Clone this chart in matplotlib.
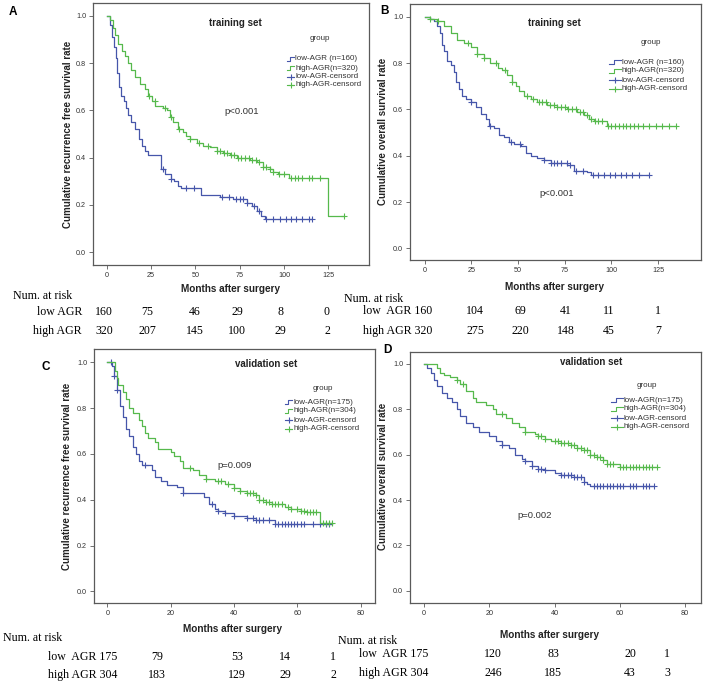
import numpy as np
import matplotlib
matplotlib.use('Agg')
import matplotlib.pyplot as plt

W, H = 708, 682
BLUE = '#4656aa'
GREEN = '#56b94c'
SANS = ['Liberation Sans', 'DejaVu Sans']
SERIF = ['Liberation Serif', 'DejaVu Serif']

# ---------------- data ----------------
# Panel A: recurrence-free survival, training set
a_low_t = [0, 2, 3, 4, 5, 6, 7, 8, 9.5, 11, 12, 14, 16, 18, 20, 21.5, 23.5, 30.5, 33, 36, 38, 40, 42, 53, 64, 71, 79, 82, 85, 87, 89, 116]
a_low_s = [1.0, 0.96, 0.91, 0.87, 0.82, 0.76, 0.70, 0.66, 0.64, 0.61, 0.58, 0.55, 0.52, 0.48, 0.45, 0.43, 0.41, 0.35, 0.33, 0.31, 0.30, 0.28, 0.27, 0.24, 0.235, 0.225, 0.21, 0.195, 0.175, 0.155, 0.14, 0.14]
a_low_c = [32, 36, 45, 49, 65, 69, 73, 75, 77, 79, 83, 86, 90, 94, 98, 101, 104, 107, 110, 114, 116]
a_high_t = [0, 2, 3.4, 4.7, 6.6, 8.5, 10.3, 12.2, 14, 16, 18.8, 21.6, 23.5, 25.4, 27.3, 32, 33.8, 35.7, 37.6, 40.4, 43, 45, 47, 50.8, 54.5, 58, 62, 65.8, 69.5, 73.3, 80.8, 84.6, 88, 92, 94, 96.8, 103, 125, 134]
a_high_s = [1.0, 0.98, 0.95, 0.92, 0.88, 0.85, 0.83, 0.80, 0.77, 0.74, 0.71, 0.69, 0.66, 0.64, 0.62, 0.61, 0.60, 0.57, 0.55, 0.52, 0.51, 0.49, 0.48, 0.46, 0.45, 0.445, 0.43, 0.42, 0.41, 0.40, 0.39, 0.38, 0.36, 0.35, 0.34, 0.33, 0.315, 0.155, 0.155]
a_high_c = [24, 27, 33, 36, 41, 47, 52, 57, 62, 64, 66, 68, 70, 72, 74, 76, 78, 80, 82, 84, 86, 88, 90, 92, 94, 97, 100, 104, 106, 108, 110, 114, 116, 120, 134]

# Panel B: overall survival, training set
b_low_t = [0, 3, 5, 6.8, 8.2, 9.5, 10.4, 12.1, 13.9, 15.7, 16.6, 18.4, 20.2, 22, 24.6, 27.3, 30, 32.7, 34.5, 37, 39.8, 42.5, 45.2, 47.9, 51.4, 54, 56.8, 60.4, 64, 67.5, 76.4, 80, 87, 89, 120]
b_low_s = [1.0, 0.99, 0.98, 0.96, 0.93, 0.88, 0.85, 0.81, 0.79, 0.76, 0.72, 0.69, 0.66, 0.645, 0.63, 0.61, 0.58, 0.56, 0.53, 0.52, 0.49, 0.48, 0.46, 0.45, 0.44, 0.41, 0.40, 0.39, 0.38, 0.37, 0.36, 0.335, 0.33, 0.315, 0.315]
b_low_c = [24.6, 35, 46, 51, 64, 67.5, 69, 71, 73, 76, 78, 81, 85, 90, 93, 96, 99, 102, 105, 108, 111, 115, 120]
b_high_t = [0, 3, 6.8, 10.4, 14, 17.5, 21, 24.6, 28, 31.8, 35, 39, 41.6, 44.3, 47, 48.8, 50.5, 53, 56.8, 60.4, 65.7, 71, 76.4, 81.8, 85.4, 88, 90.7, 97.9, 134.5]
b_high_s = [1.0, 0.99, 0.98, 0.96, 0.93, 0.90, 0.885, 0.87, 0.84, 0.82, 0.80, 0.78, 0.77, 0.75, 0.72, 0.70, 0.68, 0.66, 0.645, 0.63, 0.62, 0.61, 0.60, 0.59, 0.575, 0.56, 0.55, 0.53, 0.53]
b_high_c = [3, 7, 23, 28, 32, 38, 43, 47, 55, 58, 61, 63, 65, 67, 69, 71, 73, 75, 77, 79, 81, 83, 85, 87, 89, 91, 93, 95, 98, 100, 102, 104, 106, 108, 110, 112, 114, 117, 120, 124, 127, 131, 134.5]

# Panel C: recurrence-free survival, validation set
c_low_t = [0, 1.5, 2, 3, 4, 5, 6, 7, 8, 9, 10, 11, 14, 15, 17, 19, 22, 24, 30.5, 32, 34, 35, 37, 40, 44, 47, 53, 71]
c_low_s = [1.0, 0.985, 0.94, 0.88, 0.81, 0.76, 0.71, 0.68, 0.63, 0.60, 0.57, 0.55, 0.53, 0.50, 0.48, 0.465, 0.455, 0.43, 0.41, 0.38, 0.36, 0.35, 0.34, 0.33, 0.32, 0.31, 0.295, 0.295]
c_low_c = [1.2, 2, 3, 12, 24, 33, 35, 37, 40, 44, 46, 47, 48, 49, 51, 53, 54, 55, 56, 57, 58, 59, 60, 61, 62, 65, 67, 69, 70]
c_high_t = [0, 2.5, 3, 3.5, 5, 6, 7, 8, 10, 11, 12, 13, 15, 16, 20, 21, 23, 24, 27, 29, 31, 34, 37, 40, 42, 44, 47, 48, 50, 52, 56, 58, 61, 63, 67, 71]
c_high_s = [1.0, 0.96, 0.93, 0.90, 0.87, 0.84, 0.80, 0.78, 0.75, 0.72, 0.69, 0.67, 0.65, 0.62, 0.61, 0.59, 0.57, 0.54, 0.53, 0.51, 0.49, 0.48, 0.47, 0.45, 0.44, 0.43, 0.42, 0.40, 0.39, 0.38, 0.37, 0.36, 0.35, 0.345, 0.30, 0.30]
c_high_c = [26, 31, 35, 36, 38, 40, 42, 44, 45, 46, 47, 48, 49, 50, 51, 52, 53, 54, 55, 57, 58, 60, 61, 62, 63, 64, 65, 66, 68, 69, 70, 71]

# Panel D: overall survival, validation set
d_low_t = [0, 1, 2, 3, 4, 5.5, 7, 8.5, 10, 11, 13, 15, 17, 20, 22, 24, 26, 28, 30, 31, 33, 35, 37, 40, 42, 46, 49, 50, 51, 70.5]
d_low_s = [1.0, 0.98, 0.96, 0.93, 0.90, 0.87, 0.85, 0.83, 0.80, 0.77, 0.74, 0.72, 0.70, 0.68, 0.66, 0.64, 0.63, 0.60, 0.58, 0.57, 0.55, 0.535, 0.53, 0.52, 0.51, 0.50, 0.48, 0.47, 0.46, 0.46]
d_low_c = [24, 31, 33, 35, 36, 37, 42, 43, 44, 45, 46, 47, 48, 49, 52, 53, 54, 55, 56, 57, 58, 59, 60, 61, 63, 64, 65, 67, 68, 69, 70.5]
d_high_t = [0, 4, 5, 6, 8, 10, 11, 13, 15, 16, 19, 21, 22, 25, 27, 29, 31, 34, 35, 37, 39, 42, 45, 47, 49, 51, 53, 55, 56, 60, 71.5]
d_high_s = [1.0, 0.98, 0.96, 0.95, 0.94, 0.93, 0.91, 0.88, 0.85, 0.83, 0.82, 0.80, 0.78, 0.76, 0.74, 0.72, 0.70, 0.69, 0.68, 0.67, 0.66, 0.65, 0.64, 0.63, 0.62, 0.60, 0.59, 0.575, 0.56, 0.545, 0.545]
d_high_c = [10, 12, 24, 31, 35, 36, 37, 40, 41, 42, 43, 44, 45, 46, 47, 48, 49, 50, 51, 52, 53, 54, 55, 56, 57, 58, 60, 61, 62, 63, 64, 65, 66, 67, 68, 69, 70, 71.5]

# Number-at-risk tables
risk_low_A = [160, 75, 46, 29, 8, 0]
risk_high_A = [320, 207, 145, 100, 29, 2]
risk_low_B = [160, 104, 69, 41, 11, 1]
risk_high_B = [320, 275, 220, 148, 45, 7]
risk_low_C = [175, 79, 53, 14, 1]
risk_high_C = [304, 183, 129, 29, 2]
risk_low_D = [175, 120, 83, 20, 1]
risk_high_D = [304, 246, 185, 43, 3]

ticks_ab = [0, 25, 50, 75, 100, 125]
ticks_cd = [0, 20, 40, 60, 80]
yticks = [0.0, 0.2, 0.4, 0.6, 0.8, 1.0]

# ---------------- layout (pixels) ----------------
fig = plt.figure(figsize=(W / 100, H / 100), dpi=100)
fig.patch.set_facecolor('white')


def fx(x):
    return x / W


def fy(y):
    return 1 - y / H


def ftext(x, y, s, **kw):
    fig.text(fx(x), fy(y), s, **kw)


panels = [
    dict(box=(93, 3, 369, 265), xlim=(-7.7, 147.9), ylim=(-0.054, 1.054), xticks=ticks_ab,
         low=(a_low_t, a_low_s, a_low_c), high=(a_high_t, a_high_s, a_high_c),
         letter=('A', 13, 12), title=('training set', 235, 23), p=('p<0.001', 242, 111),
         ylabel=('Cumulative recurrence free survival rate', 68, 134), xlabel=(231, 289),
         leg=(320, 39, 287, [59, 68, 76.5, 85], 7), n=('160', '320'), sep=' '),
    dict(box=(410, 4, 701, 260), xlim=(-7.9, 148.0), ylim=(-0.05, 1.055), xticks=ticks_ab,
         low=(b_low_t, b_low_s, b_low_c), high=(b_high_t, b_high_s, b_high_c),
         letter=('B', 385, 11), title=('training set', 554, 23), p=('p<0.001', 557, 193),
         ylabel=('Cumulative overall survival rate', 383, 131), xlabel=(555, 287),
         leg=(651, 42, 609, [62, 71, 80, 89], 12), n=('160', '320'), sep=' '),
    dict(box=(94, 349, 375, 603), xlim=(-4.2, 84.5), ylim=(-0.051, 1.058), xticks=ticks_cd,
         low=(c_low_t, c_low_s, c_low_c), high=(c_high_t, c_high_s, c_high_c),
         letter=('C', 46, 367), title=('validation set', 266, 364), p=('p=0.009', 235, 466),
         ylabel=('Cumulative recurrence free survival rate', 67, 476), xlabel=(233, 629),
         leg=(323, 388, 285, [402, 411, 420, 429], 7), n=('175', '304'), sep=''),
    dict(box=(410, 352, 701, 603), xlim=(-4.3, 84.9), ylim=(-0.053, 1.051), xticks=ticks_cd,
         low=(d_low_t, d_low_s, d_low_c), high=(d_high_t, d_high_s, d_high_c),
         letter=('D', 387, 350), title=('validation set', 591, 362), p=('p=0.002', 535, 516),
         ylabel=('Cumulative overall survival rate', 383, 476), xlabel=(550, 635),
         leg=(647, 385, 611, [400, 409, 418, 427], 12), n=('175', '304'), sep=''),
]

FRAME = '#5a5a5a'
for P in panels:
    l, t, r, b = P['box']
    ax = fig.add_axes([fx(l), fy(b), (r - l) / W, (b - t) / H])
    ax.set_xlim(*P['xlim'])
    ax.set_ylim(*P['ylim'])
    for sp in ax.spines.values():
        sp.set_color(FRAME)
        sp.set_linewidth(0.9)
    ax.set_xticks(P['xticks'])
    ax.set_yticks(yticks)
    ax.set_yticklabels([f'{v:.1f}' for v in yticks])
    ax.tick_params(direction='out', length=3, width=0.6, color=FRAME,
                   labelsize=5.2, labelcolor='#333333', pad=2)
    for lab in ax.get_xticklabels() + ax.get_yticklabels():
        lab.set_family(SANS)
    for (tt, ss, cc), col in ((P['low'], BLUE), (P['high'], GREEN)):
        ax.step(tt, ss, where='post', color=col, lw=0.9)
        idx = np.searchsorted(np.asarray(tt), np.asarray(cc), side='right') - 1
        cy = np.asarray(ss)[idx]
        ax.plot(cc, cy, ls='none', marker='+', color=col, ms=4.5, mew=0.8)

    s, x, y = P['letter']
    ftext(x, y, s, family=SANS, fontsize=8.5, fontweight='bold', ha='center', va='center')
    s, x, y = P['title']
    ftext(x, y, s, family=SANS, fontsize=7, fontweight='bold', ha='center', va='center', color='#222222')
    s, x, y = P['p']
    ftext(x, y, s, family=SANS, fontsize=6.8, ha='center', va='center', color='#333333')
    s, x, y = P['ylabel']
    ftext(x, y, s, family=SANS, fontsize=7, fontweight='bold', ha='center', va='center',
          rotation=90, color='#222222')
    x, y = P['xlabel']
    ftext(x, y, 'Months after surgery', family=SANS, fontsize=7.2, fontweight='bold',
          ha='center', va='center', color='#222222')

    # manual legend, SPSS style
    gx, gy, sx, rows, sw = P['leg']
    ftext(gx, gy, 'group', family=SANS, fontsize=5.8, ha='center', va='center', color='#333333')
    nlo, nhi = P['n']
    labels = [f"low-AGR{P['sep']}(n={nlo})", f'high-AGR(n={nhi})', 'low-AGR-censord', 'high-AGR-censord']
    cols = [BLUE, GREEN, BLUE, GREEN]
    for i, (ry, lab, col) in enumerate(zip(rows, labels, cols)):
        if i < 2:
            xs = [sx, sx + sw * 0.45, sx + sw * 0.45, sx + sw]
            ys = [ry + 1.8, ry + 1.8, ry - 1.8, ry - 1.8]
            fig.add_artist(plt.Line2D([fx(v) for v in xs], [fy(v) for v in ys], color=col, lw=0.8))
        else:
            fig.add_artist(plt.Line2D([fx(sx), fx(sx + sw)], [fy(ry), fy(ry)], color=col, lw=0.8))
            fig.add_artist(plt.Line2D([fx(sx + sw / 2)], [fy(ry)], color=col, marker='+',
                                      ms=4.5, mew=0.8, ls='none'))
        ftext(sx + sw + 1, ry, lab, family=SANS, fontsize=5.8, ha='left', va='center', color='#333333')

# ---------------- number at risk tables ----------------
TS = 8.6
# A: labels right-aligned, every count in its own column
ftext(13, 296, 'Num. at risk', family=SERIF, fontsize=TS, ha='left', va='center')
for ry, lab, vals in ((312, 'low AGR', risk_low_A), (331, 'high AGR', risk_high_A)):
    ftext(82, ry, lab, family=SERIF, fontsize=TS, ha='right', va='center')
    for cx, v in zip([104, 147, 195, 237, 280, 327], vals):
        ftext(cx, ry, str(v), family=SERIF, fontsize=TS, ha='center', va='center')

# B, C, D: first count follows the label directly
tables = [
    dict(head=(344, 299), lab_x=363, rows=(311, 331), cols=[475, 520, 566, 609, 658],
         low=risk_low_B, high=risk_high_B),
    dict(head=(3, 638), lab_x=48, rows=(657, 675), cols=[157, 237, 285, 333],
         low=risk_low_C, high=risk_high_C),
    dict(head=(338, 641), lab_x=359, rows=(654, 673), cols=[493, 553, 630, 667],
         low=risk_low_D, high=risk_high_D),
]
for T in tables:
    hx, hy = T['head']
    ftext(hx, hy, 'Num. at risk', family=SERIF, fontsize=TS, ha='left', va='center')
    for ry, lab, vals in zip(T['rows'], ('low  AGR', 'high AGR'), (T['low'], T['high'])):
        ftext(T['lab_x'], ry, f'{lab} {vals[0]}', family=SERIF, fontsize=TS, ha='left', va='center')
        for cx, v in zip(T['cols'], vals[1:]):
            ftext(cx, ry, str(v), family=SERIF, fontsize=TS, ha='center', va='center')

fig.savefig('out.png', dpi=100, facecolor='white')
